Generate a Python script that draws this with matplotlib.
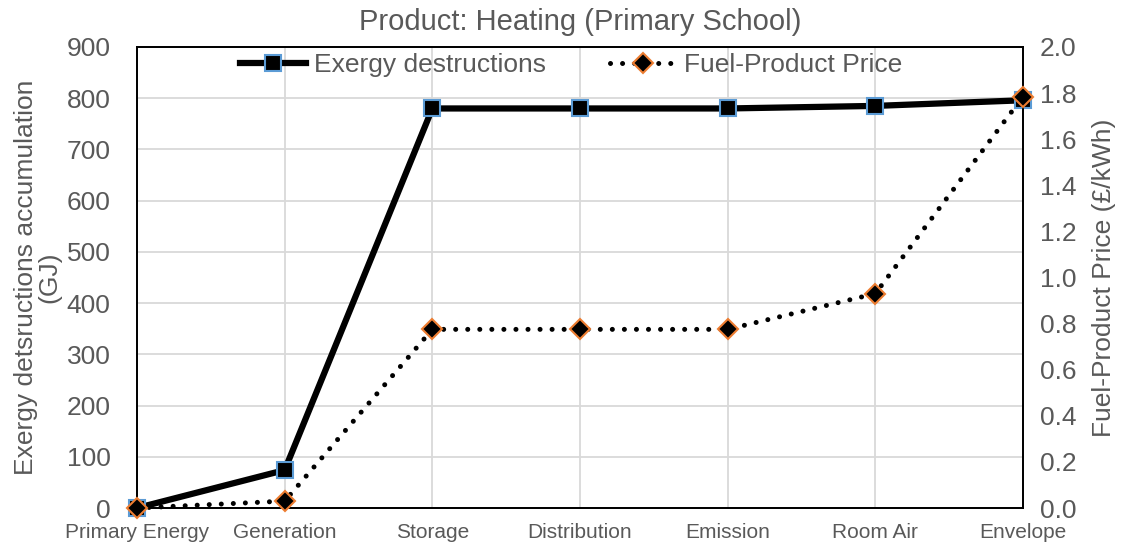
import numpy as np
import matplotlib.pyplot as plt
from matplotlib.lines import Line2D

plt.rcParams['font.family'] = ['Liberation Sans', 'DejaVu Sans']

stages = ['Primary Energy', 'Generation', 'Storage', 'Distribution', 'Emission', 'Room Air', 'Envelope']
exergy = [0, 74, 780, 780, 780, 785, 796]
price = [0.0, 0.03, 0.775, 0.775, 0.775, 0.93, 1.785]

grey = '#595959'
blue_edge = '#5b9bd5'
orange_edge = '#ed7d31'
dots = (0, (0.01, 2.4))

fig = plt.figure(figsize=(11.23, 5.47), dpi=100)
ax = fig.add_axes([137 / 1123, 1 - 508 / 547, 886 / 1123, 461 / 547])
ax2 = ax.twinx()

x = np.arange(len(stages))

ax.plot(x, exergy, color='black', lw=4.5, marker='s', ms=11,
        mfc='black', mec=blue_edge, mew=1.5, zorder=3, clip_on=False)
ax2.plot(x, price, color='black', lw=3.6, ls=dots, dash_capstyle='round',
         marker='D', ms=10, mfc='black', mec=orange_edge, mew=1.5,
         zorder=4, clip_on=False)

ax.set_xlim(0, 6)
ax.set_ylim(0, 900)
ax.set_yticks(range(0, 901, 100))
ax2.set_ylim(0, 2.0)
ax2.set_yticks(np.arange(0, 2.01, 0.2))
ax2.set_yticklabels(['%.1f' % v for v in np.arange(0, 2.01, 0.2)])
ax.set_xticks(x)
ax.set_xticklabels(stages)

ax.grid(True, color='#d9d9d9', lw=1.3)
ax.set_axisbelow(True)

for a in (ax, ax2):
    for s in a.spines.values():
        s.set_color('black')
        s.set_linewidth(1.3)
    a.tick_params(length=0, colors=grey, labelsize=19)
ax.tick_params(axis='x', labelsize=15, pad=11)
ax.tick_params(axis='y', pad=19)
ax2.tick_params(axis='y', pad=12)

ax.set_ylabel('Exergy detsructions accumulation\n(GJ)', fontsize=19, color=grey,
              linespacing=0.95, labelpad=4)
ax2.set_ylabel('Fuel-Product Price (£/kWh)', fontsize=19, color=grey, labelpad=11)
ax.set_title('Product: Heating (Primary School)', fontsize=21, color=grey, pad=12)

handles = [
    Line2D([0], [0], color='black', lw=4.5, marker='s', ms=11, mfc='black',
           mec=blue_edge, mew=1.5),
    Line2D([0], [0], color='black', lw=3.6, ls=dots, dash_capstyle='round',
           marker='D', ms=10, mfc='black', mec=orange_edge, mew=1.5),
]
leg = ax.legend(handles, ['Exergy destructions', 'Fuel-Product Price'], loc='center',
                bbox_to_anchor=(0.49, 0.961), ncol=2, frameon=False, fontsize=19,
                handlelength=2.5, columnspacing=2.4, handletextpad=0.3,
                borderpad=0, borderaxespad=0)
for t in leg.get_texts():
    t.set_color(grey)

fig.savefig('out.png', dpi=100)
